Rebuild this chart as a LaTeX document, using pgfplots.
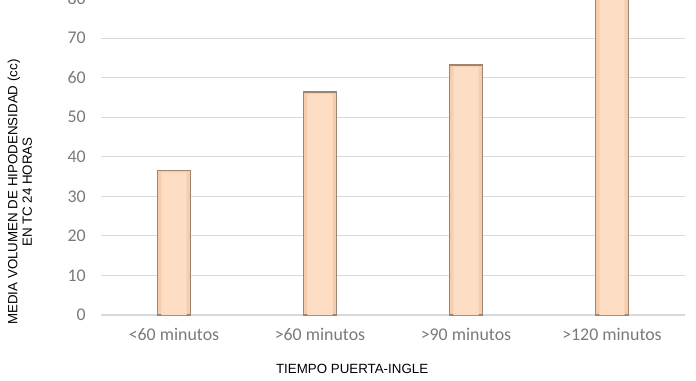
\documentclass[border=0pt]{standalone}
\usepackage{pgfplots}
\pgfplotsset{compat=1.18}
\usepackage{fontspec}
\setmainfont{Liberation Sans}
\newfontfamily\carlito{Carlito}
\definecolor{tickgray}{HTML}{7A7A7A}
\definecolor{gridgray}{HTML}{D9D9D9}
\definecolor{barfill}{HTML}{F6CEAE}
\definecolor{barinner}{HTML}{FDDDC3}
\definecolor{baredge}{HTML}{9C8672}
\begin{document}
\begin{tikzpicture}
\begin{axis}[
  name=ax,
  scale only axis,
  width=438pt, height=243.3pt,
  xmin=-0.5, xmax=3.5, ymin=0, ymax=82,
  ybar, bar width=24.75pt, bar shift=0pt,
  xtick=data,
  xticklabels={<60 minutos,>60 minutos,>90 minutos,>120 minutos},
  ytick={0,10,...,80},
  ymajorgrids, grid style={gridgray, line width=0.8pt},
  extra y ticks={0}, extra y tick labels={},
  extra y tick style={grid style={gridgray, line width=1.4pt}},
  axis line style={draw=none},
  major tick length=0pt,
  /pgf/number format/assume math mode=true,
  ticklabel style={font=\carlito\fontsize{13.4}{15}\selectfont, text=tickgray},
  yticklabel style={xshift=-8pt},
  xticklabel style={yshift=-6pt},
  xlabel={TIEMPO PUERTA-INGLE},
  xlabel style={at={(axis description cs:0.43,-0.166)}, anchor=center, font=\fontsize{10}{12}\selectfont},
  ylabel={MEDIA VOLUMEN DE HIPODENSIDAD (cc)\\EN TC 24 HORAS},
  ylabel style={at={(axis description cs:-0.139,0.379)}, anchor=center, rotate=0, align=center, font=\fontsize{10}{11}\selectfont},
  clip=false,
]
\addplot[fill=barfill, draw=baredge, line width=1.2pt] coordinates {(0,36.5) (1,56.4) (2,63.2) (3,80.5)};
\addplot[fill=barinner, draw=none, bar width=19pt] coordinates {(0,36.0) (1,55.9) (2,62.7) (3,80.0)};
\end{axis}
\pgfresetboundingbox
\path[use as bounding box] ([shift={(-75.75pt,-48.75pt)}]ax.south west) rectangle +(522pt,285pt);
\end{tikzpicture}
\end{document}
